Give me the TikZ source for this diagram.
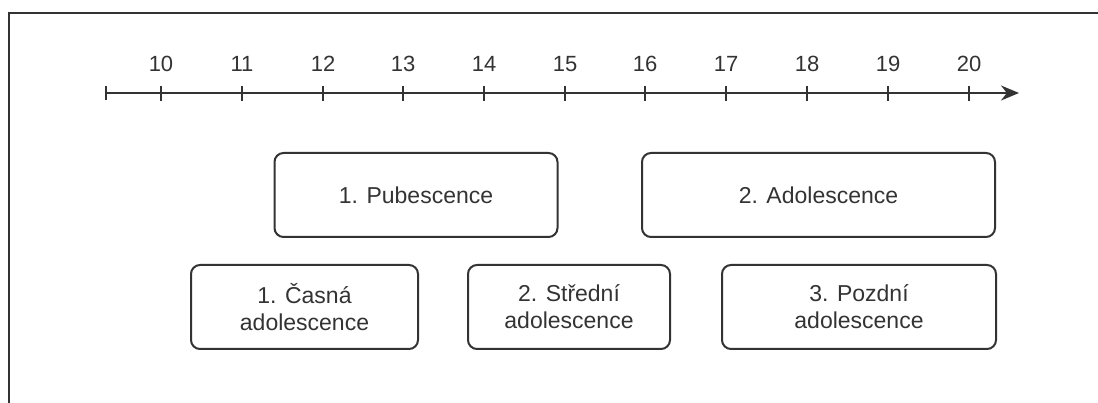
\documentclass[tikz,border=0pt]{standalone}
\usepackage{fontspec}
\setmainfont{Liberation Sans}
\usetikzlibrary{arrows.meta}
\definecolor{ink}{HTML}{333333}
\definecolor{txt}{HTML}{333333}
\begin{document}
\begin{tikzpicture}[x=1pt,y=-1pt,
  phase/.style={draw=ink,line width=2pt,rounded corners=9pt,minimum height=84pt,
    align=center,text=txt,font=\fontsize{23}{27}\selectfont,inner sep=0pt},
  ticklbl/.style={text=txt,font=\fontsize{22}{26}\selectfont,inner sep=0pt},
  axisline/.style={draw=ink,line width=2pt}]
\useasboundingbox (0,0) rectangle (1098,403);
% frame (cropped)
\draw[ink,line width=2.2pt] (9,405) -- (9,13) -- (1100,13);
% axis
\coordinate (a0) at (106,93);
\coordinate (a1) at (1019,93);
\draw[axisline,-{Stealth[length=18pt,width=15pt]}] (a0) -- (a1);
\draw[axisline] (106,86) -- (106,100);
\foreach \n/\xx in {10/161,11/242,12/323,13/403,14/484,15/565,16/645,17/726,18/807,19/888,20/969}{
  \draw[ink,line width=1.4pt] (\xx,86) -- (\xx,101);
  \node[ticklbl] (t\n) at (\xx,64) {\n};
}
% phase boxes
\node[phase,minimum width=283pt] (pub) at (416,195) {1. Pubescence};
\node[phase,minimum width=353pt] (adol) at (818.5,195) {2. Adolescence};
\node[phase,minimum width=227pt] (casna) at (304.5,307) {1. Časná\\adolescence};
\node[phase,minimum width=202pt] (stredni) at (569,307) {2. Střední\\adolescence};
\node[phase,minimum width=274pt] (pozdni) at (859,307) {3. Pozdní\\adolescence};
\end{tikzpicture}
\end{document}
